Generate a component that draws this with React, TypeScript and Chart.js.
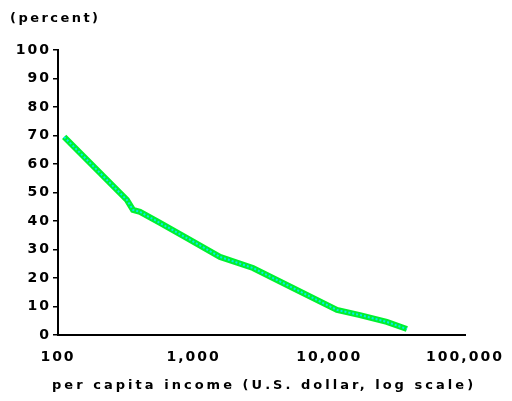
import React, { useEffect, useRef } from "react";
import { Chart, registerables } from "chart.js";

Chart.register(...registerables);

const incomes = [111, 322, 357, 402, 565, 893, 1563, 2735, 5390, 11380, 16800, 26500, 37300];
const percents = [69.5, 47.4, 43.9, 43.2, 39.3, 34.0, 27.4, 23.5, 16.5, 8.8, 7.0, 4.6, 2.1];
const xTickValues = [100, 1000, 10000, 100000];
const yTitle = "(percent)";
const xTitle = "per capita income (U.S. dollar, log scale)";

const FONT = "'DejaVu Sans', sans-serif";

function fitText(ctx: any, text: string, x: number, y: number, width: number) {
  ctx.letterSpacing = "0px";
  const w0 = ctx.measureText(text).width;
  const sp = Math.max(0, (width - w0) / Math.max(1, text.length - 1));
  ctx.letterSpacing = `${sp.toFixed(2)}px`;
  ctx.fillText(text, x, y);
}

const spacingPlugin = {
  id: "spacing",
  beforeUpdate(chart: any) {
    chart.ctx.letterSpacing = "2px";
  },
  beforeDraw(chart: any) {
    chart.ctx.letterSpacing = "2px";
  },
  afterDraw(chart: any) {
    const ctx = chart.ctx;
    ctx.save();
    ctx.font = `bold 13px ${FONT}`;
    ctx.fillStyle = "#000";
    ctx.textBaseline = "middle";
    ctx.textAlign = "left";
    fitText(ctx, yTitle, 10, 19, 88);
    fitText(ctx, xTitle, 52, 386, 421);
    ctx.restore();
  },
};

export default function App() {
  const ref = useRef<HTMLCanvasElement>(null);
  useEffect(() => {
    if (!ref.current) return;
    const pts = incomes.map((x, i) => ({ x, y: percents[i] }));
    const chart = new Chart(ref.current, {
      type: "line",
      data: {
        datasets: [
          {
            data: pts,
            borderColor: "#00e8f0",
            borderWidth: 2,
            borderDash: [2, 2],
            pointRadius: 0,
            tension: 0,
          },
          {
            data: pts,
            borderColor: "#00f030",
            borderWidth: 6,
            pointRadius: 0,
            tension: 0,
          },
        ],
      },
      options: {
        responsive: false,
        animation: false,
        devicePixelRatio: 1,
        layout: { padding: { left: 0, top: 50, right: 47, bottom: 0 } },
        plugins: { legend: { display: false }, tooltip: { enabled: false } },
        scales: {
          x: {
            type: "logarithmic",
            min: 100,
            max: 100000,
            afterBuildTicks: (scale: any) => {
              scale.ticks = xTickValues.map((v) => ({ value: v }));
            },
            afterFit: (scale: any) => {
              scale.height = 66;
            },
            ticks: {
              color: "#000",
              font: { family: FONT, size: 14, weight: "bold" },
              padding: 6,
              maxRotation: 0,
              autoSkip: false,
              callback: (v: any) => Number(v).toLocaleString("en-US"),
            },
            grid: { display: false },
            border: { display: true, color: "#000", width: 2 },
          },
          y: {
            min: 0,
            max: 100,
            afterFit: (scale: any) => {
              scale.width = 58;
            },
            ticks: {
              stepSize: 10,
              color: "#000",
              font: { family: FONT, size: 14, weight: "bold" },
              padding: 2,
            },
            grid: {
              display: true,
              drawOnChartArea: false,
              drawTicks: true,
              tickLength: 5,
              color: "#000",
              lineWidth: 1.5,
            },
            border: { display: true, color: "#000", width: 2 },
          },
        },
      },
      plugins: [spacingPlugin],
    });
    return () => chart.destroy();
  }, []);
  return (
    <canvas
      ref={ref}
      width={512}
      height={401}
      style={{ position: "absolute", left: 0, top: 0, width: 512, height: 401 }}
    />
  );
}
